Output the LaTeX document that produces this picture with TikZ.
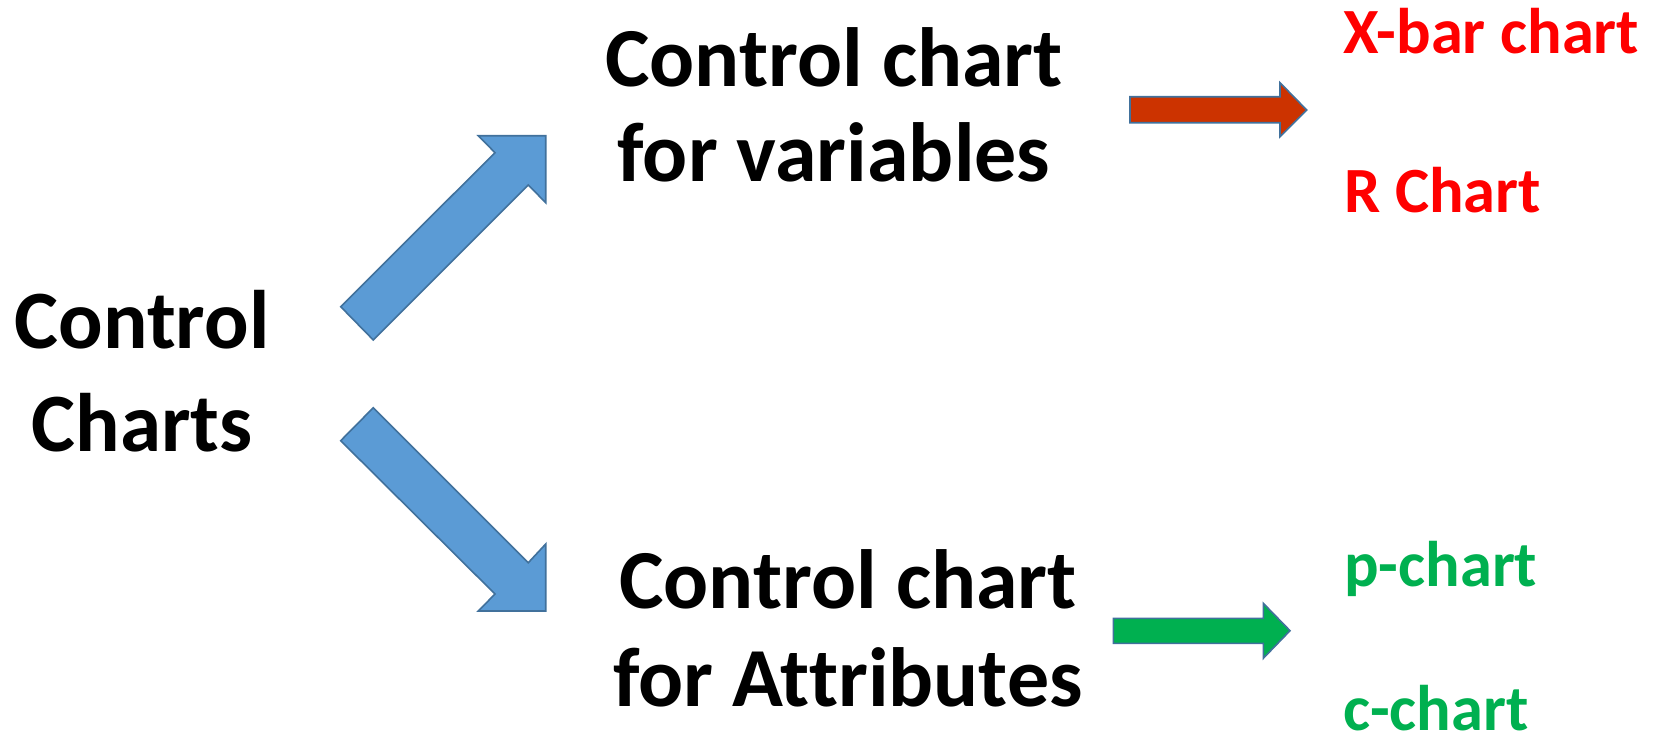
\documentclass[tikz,border=0pt]{standalone}
\usepackage{fontspec}
\setmainfont{Carlito}[Ligatures=NoCommon]
\definecolor{blockblue}{HTML}{5B9BD5}
\definecolor{edgeblue}{HTML}{41719C}
\definecolor{varred}{HTML}{CC3300}
\definecolor{textred}{HTML}{FF0000}
\definecolor{attgreen}{HTML}{00B050}
\begin{document}
\begin{tikzpicture}[x=1pt,y=-1pt,
  heading/.style={font=\fontsize{83}{103}\selectfont\bfseries, align=center, inner sep=0pt},
  subheading/.style={font=\fontsize{84}{95}\selectfont\bfseries, align=center, inner sep=0pt},
  leaf/.style={font=\fontsize{64.5}{64.5}\selectfont\bfseries, anchor=base west, inner sep=0pt},
  blockarrow/.style={draw=edgeblue, line width=1.6pt, line join=miter}
]
\useasboundingbox (0,0) rectangle (1653,736);

% text blocks (anchored at the baseline of their last line)
\node[heading, anchor=base] (root) at (142,451.7) {Control\\Charts};
\node[subheading, anchor=base] (var) at (834,181) {Control chart\\for variables};
\node[subheading, anchor=base, font=\fontsize{84}{98.4}\selectfont\bfseries] (att) at (848,706.7) {Control chart\\for Attributes};

\node[leaf, text=textred] (xbar) at (1343,53.3) {X-bar chart};
\node[leaf, text=textred] (rch) at (1344,212.7) {R Chart};
\node[leaf, text=attgreen] (pch) at (1344,586.7) {p-chart};
\node[leaf, text=attgreen] (cch) at (1343,730) {c-chart};

% diagonal block arrows
\filldraw[blockarrow, fill=blockblue]
  (340.7,306.7) -- (373.3,340) -- (528.3,185) -- (545.7,202.7)
  -- (545.7,135.7) -- (478.3,135.7) -- (495,152.7) -- cycle;
\filldraw[blockarrow, fill=blockblue]
  (340.7,440.7) -- (373.3,407.7) -- (528.3,562.7) -- (545.7,544)
  -- (545.7,611) -- (478.3,611) -- (495,594) -- cycle;

% horizontal block arrows
\filldraw[blockarrow, fill=varred]
  (1130,96.7) -- (1280,96.7) -- (1280,82.7) -- (1306.7,110)
  -- (1280,136.7) -- (1280,122.7) -- (1130,122.7) -- cycle;
\filldraw[blockarrow, fill=attgreen]
  (1113.3,618.3) -- (1263.3,618.3) -- (1263.3,603.3) -- (1290,630.7)
  -- (1263.3,658.3) -- (1263.3,643.3) -- (1113.3,643.3) -- cycle;
\end{tikzpicture}
\end{document}
